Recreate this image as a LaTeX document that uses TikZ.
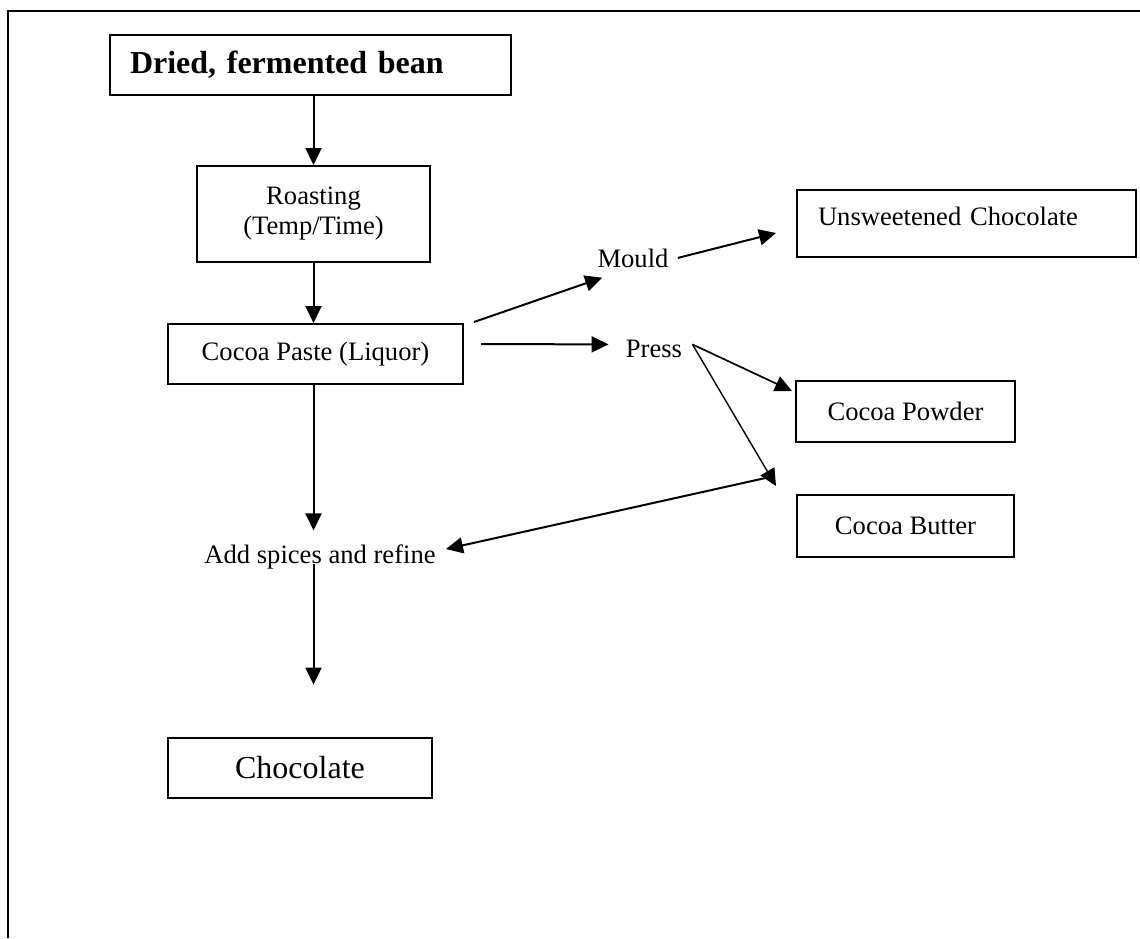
\documentclass[tikz,border=0pt]{standalone}
\usepackage{fontspec}
\setmainfont{Liberation Serif}
\usepackage{tikz}
\usetikzlibrary{arrows.meta,positioning,calc}
\tikzset{
  >={Triangle[length=8.5pt,width=8pt]},
  box/.style   ={draw=black,line width=1pt,align=center,inner sep=0pt,
                 font=\fontsize{13.3}{15}\selectfont},
  bigbox/.style={box,font=\fontsize{16}{19}\selectfont},
  lbl/.style   ={inner xsep=3pt,inner ysep=3pt,font=\fontsize{13.3}{15}\selectfont},
  ar/.style    ={->,line width=1pt},
  art/.style   ={->,line width=0.7pt},
  frame/.style ={line width=0.75pt},
}
\begin{document}
\begin{tikzpicture}[x=0.5pt,y=-0.5pt]
\useasboundingbox (0,0) rectangle (1140,938);
\draw[frame] (8,938) |- (1140,11);
% main column
\node[bigbox,font=\bfseries\fontsize{16}{19}\selectfont,text width=180.5pt,align=left,
      inner xsep=10pt,minimum height=30pt] (bean) at (310.5,65) {Dried, fermented bean};
\node[box,minimum width=116.5pt,minimum height=48pt] (roast) at (313.5,214) {Roasting\\(Temp/Time)};
\node[box,minimum width=147.5pt,minimum height=30pt] (paste) at (315.5,354) {Cocoa Paste (Liquor)};
\node[lbl,anchor=base,inner ysep=7pt] (spices) at (320,563.6) {Add spices and refine};
\coordinate (refined) at ($(roast.south |- spices.base)+(0,121)$);
\node[bigbox,minimum width=132pt,minimum height=30pt] (choc) at (300,768) {Chocolate};
% side products
\node[lbl,anchor=base] (mould) at (633,267) {Mould};
\node[lbl,anchor=base] (press) at (654,357) {Press};
\node[box,text width=148.5pt,align=left,inner xsep=10.5pt,inner ysep=0pt,
      text height=17.5pt,text depth=16pt] (unsw) at (966.5,223.5) {Unsweetened Chocolate};
\node[box,minimum width=109.5pt,minimum height=30.5pt] (powder) at (905.5,411.5) {Cocoa Powder};
\node[box,minimum width=108.5pt,minimum height=31pt] (butter) at (905.5,526) {Cocoa Butter};
\coordinate (bsplit) at ($(butter.north west)+(-26,-17)$);
% connectors
\draw[ar] (roast.north |- bean.south) -- (roast.north);
\draw[ar] (roast.south) -- (roast.south |- paste.north);
\draw[ar] (roast.south |- paste.south) -- (roast.south |- spices.north);
\draw[ar] (roast.south |- spices.base) -- (refined);
\draw[ar] ([shift={(10,-1)}]paste.north east) -- ([shift={(11,4)}]mould.south west);
\draw[ar] ([xshift=1.5pt]mould.east) -- ([shift={(-20,9.5)}]unsw.west);
\draw[ar] ([shift={(17,-10)}]paste.east) -- ([shift={(-11,-4)}]press.west);
\draw[art,line width=0.85pt] ([shift={(4,-4)}]press.east) -- ([shift={(-3,11)}]powder.north west);
\draw[art] ([shift={(4,-4)}]press.east) -- ([shift={(-20,-8)}]butter.north west);
\draw[ar] (bsplit) -- ([shift={(4,-8)}]spices.east);
\end{tikzpicture}
\end{document}
